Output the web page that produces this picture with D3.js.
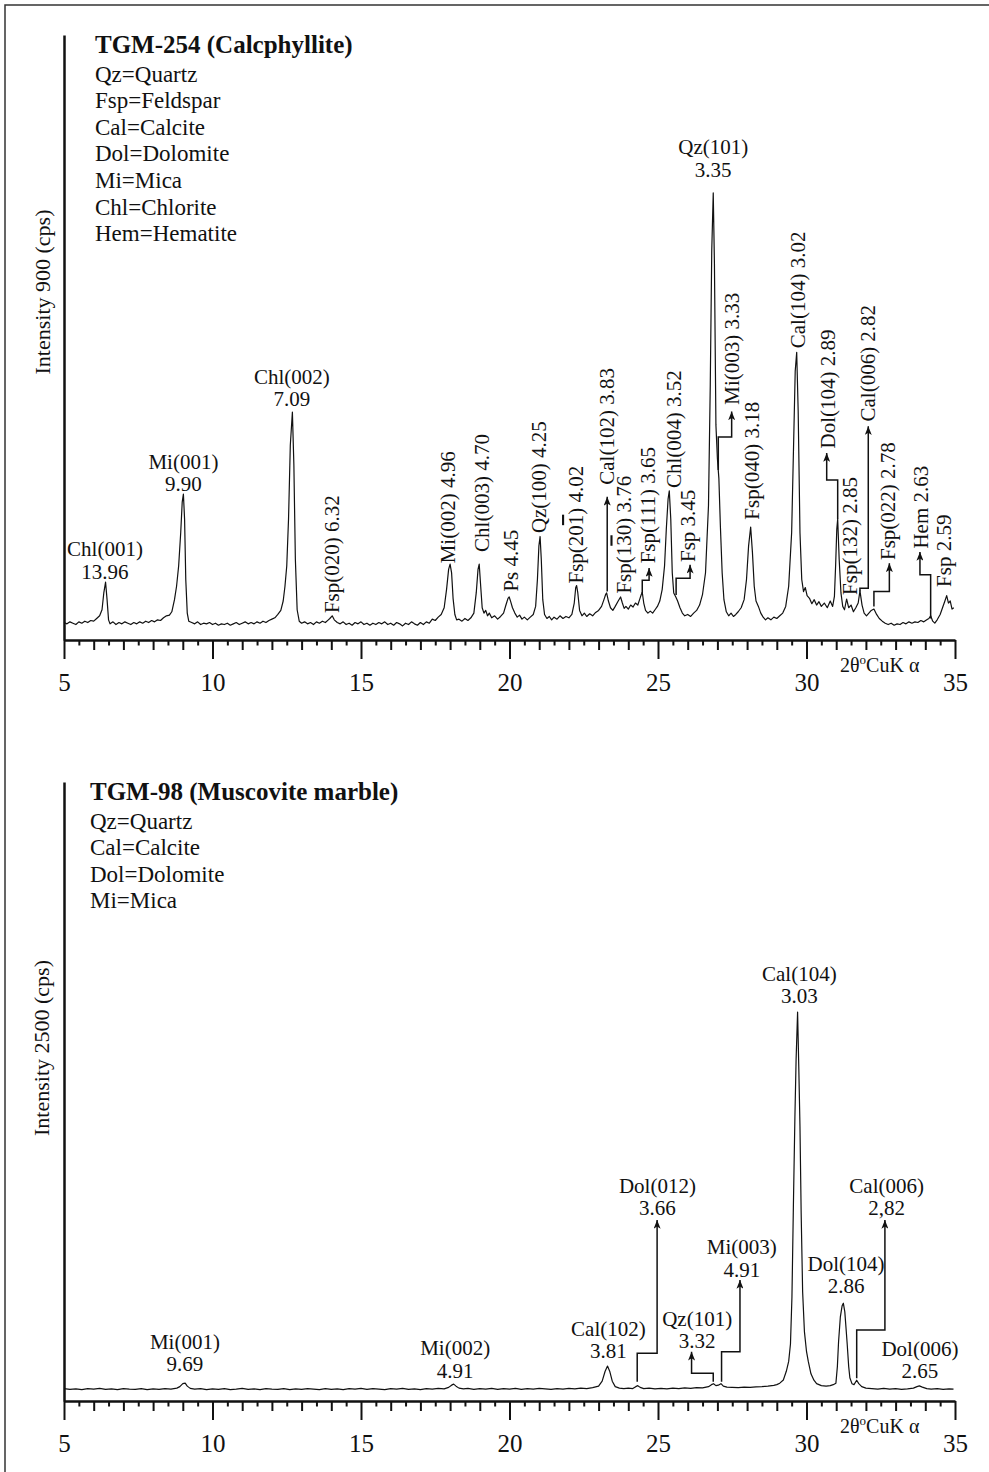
<!DOCTYPE html>
<html>
<head>
<meta charset="utf-8">
<script src="https://cdn.jsdelivr.net/npm/d3@7"></script>
<style>
body { margin: 0; background: #fff; }
svg text { font-family: "Liberation Serif", "Times New Roman", serif; fill: #111; }
</style>
</head>
<body>
<svg id="xrd" width="989" height="1472"></svg>
<script>
// ---- TGM-254 (Calcphyllite): trace, [2theta, cps]
const topTrace = [
  [5.0,26],[5.1,24],[5.2,27],[5.3,25],[5.4,23],[5.5,27],[5.6,25],[5.7,28],[5.8,26],[5.9,29],[6.0,28],[6.1,32],[6.2,36],
  [6.28,45],[6.34,70],[6.40,86],[6.45,60],[6.50,30],[6.55,24],[6.65,27],[6.75,23],[6.85,26],[6.95,24],[7.05,27],[7.15,25],
  [7.25,23],[7.35,26],[7.45,24],[7.55,27],[7.65,25],[7.75,28],[7.85,26],[7.95,29],[8.05,27],[8.15,30],[8.25,29],[8.35,33],
  [8.45,36],[8.55,37],[8.63,42],[8.72,60],[8.79,80],[8.86,110],[8.93,160],[8.98,205],[9.02,217],[9.06,180],[9.10,90],
  [9.15,40],[9.20,28],[9.3,26],[9.4,24],[9.5,27],[9.6,23],[9.7,25],[9.8,24],[9.9,26],[10.0,23],[10.1,25],[10.2,22],
  [10.3,24],[10.4,23],[10.5,25],[10.6,22],[10.7,24],[10.8,26],[10.9,23],[11.0,25],[11.1,27],[11.2,24],[11.3,26],[11.4,24],
  [11.5,27],[11.6,25],[11.7,28],[11.8,26],[11.9,29],[12.0,31],[12.1,33],[12.2,38],[12.3,44],[12.38,58],[12.44,80],
  [12.50,110],[12.56,180],[12.62,290],[12.69,339],[12.74,260],[12.79,120],[12.85,45],[12.92,28],[13.0,25],[13.1,27],
  [13.2,24],[13.3,26],[13.4,23],[13.5,27],[13.6,25],[13.7,28],[13.8,26],[13.9,30],[13.95,32],[14.03,36],[14.1,30],
  [14.2,26],[14.3,24],[14.4,27],[14.5,23],[14.6,25],[14.7,22],[14.8,26],[14.9,24],[15.0,27],[15.1,23],[15.2,25],[15.3,22],
  [15.4,25],[15.5,23],[15.6,26],[15.7,24],[15.8,27],[15.9,23],[16.0,25],[16.1,22],[16.2,26],[16.3,24],[16.4,21],[16.5,25],
  [16.6,23],[16.7,27],[16.8,24],[16.9,22],[17.0,26],[17.1,23],[17.2,27],[17.3,25],[17.4,31],[17.5,29],[17.6,34],[17.7,38],
  [17.8,48],[17.88,75],[17.95,105],[18.0,113],[18.05,100],[18.1,62],[18.16,38],[18.22,30],[18.3,31],[18.4,28],[18.5,32],
  [18.6,29],[18.7,33],[18.8,40],[18.88,70],[18.94,105],[18.98,113],[19.03,80],[19.08,48],[19.14,40],[19.2,44],[19.26,36],
  [19.32,40],[19.4,33],[19.5,36],[19.6,31],[19.7,35],[19.8,40],[19.88,52],[19.95,62],[19.99,64],[20.04,57],[20.1,48],
  [20.18,40],[20.26,34],[20.34,37],[20.42,31],[20.5,34],[20.6,30],[20.7,34],[20.8,38],[20.88,50],[20.94,90],[20.99,140],
  [21.03,154],[21.07,120],[21.12,60],[21.18,38],[21.26,32],[21.34,35],[21.42,30],[21.5,34],[21.6,31],[21.7,36],[21.8,32],
  [21.9,35],[22.0,33],[22.1,38],[22.18,55],[22.23,78],[22.26,81],[22.3,70],[22.36,44],[22.44,36],[22.52,40],[22.6,35],
  [22.7,39],[22.8,36],[22.9,41],[23.0,44],[23.1,50],[23.18,60],[23.24,68],[23.27,70],[23.33,58],[23.4,48],[23.48,44],
  [23.56,50],[23.66,58],[23.74,64],[23.8,55],[23.86,47],[23.92,50],[24.0,46],[24.08,52],[24.16,49],[24.24,55],[24.32,52],
  [24.38,60],[24.44,68],[24.47,71],[24.52,55],[24.58,44],[24.66,40],[24.74,43],[24.82,40],[24.9,45],[24.98,50],[25.06,58],
  [25.14,75],[25.22,110],[25.28,165],[25.34,210],[25.38,222],[25.43,180],[25.48,100],[25.53,70],[25.6,64],[25.66,58],
  [25.74,48],[25.82,40],[25.9,36],[26.0,38],[26.1,35],[26.2,40],[26.3,44],[26.4,52],[26.5,68],[26.6,100],[26.7,200],
  [26.76,380],[26.81,580],[26.86,665],[26.9,560],[26.95,320],[27.0,270],[27.05,240],[27.1,170],[27.16,100],[27.22,60],
  [27.3,42],[27.38,36],[27.46,40],[27.54,35],[27.62,38],[27.7,42],[27.8,48],[27.9,60],[27.98,90],[28.05,140],[28.12,168],
  [28.18,130],[28.24,80],[28.3,58],[28.38,50],[28.46,40],[28.54,34],[28.62,30],[28.7,33],[28.8,30],[28.9,34],[29.0,32],
  [29.1,36],[29.2,40],[29.3,50],[29.4,80],[29.5,160],[29.56,280],[29.62,400],[29.67,428],[29.72,340],[29.78,160],[29.84,90],
  [29.9,72],[29.96,78],[30.02,66],[30.1,62],[30.18,54],[30.26,60],[30.34,52],[30.42,57],[30.5,50],[30.6,55],[30.7,48],
  [30.8,58],[30.88,50],[30.94,65],[30.98,110],[31.02,165],[31.05,180],[31.1,120],[31.16,70],[31.22,50],[31.28,45],
  [31.35,61],[31.42,48],[31.5,52],[31.58,42],[31.66,48],[31.74,55],[31.8,73],[31.87,52],[31.94,40],[32.02,36],[32.1,40],
  [32.18,44],[32.27,46],[32.36,38],[32.45,32],[32.55,28],[32.65,25],[32.75,23],[32.85,25],[32.95,22],[33.05,24],[33.15,23],
  [33.25,26],[33.35,24],[33.45,27],[33.55,25],[33.65,27],[33.75,26],[33.85,29],[33.95,27],[34.05,30],[34.12,32],[34.18,36],
  [34.25,28],[34.32,25],[34.4,30],[34.5,38],[34.58,48],[34.66,58],[34.72,66],[34.78,55],[34.84,58],[34.9,46],[34.96,48]
];

// horizontal two-line peak labels: name, d-spacing, 2theta, cps of second line
const topPeaks = [
  {name:"Chl(001)", d:"13.96", theta:6.38, at:91},
  {name:"Mi(001)", d:"9.90", theta:9.02, at:221},
  {name:"Chl(002)", d:"7.09", theta:12.67, at:348},
  {name:"Qz(101)", d:"3.35", theta:26.86, at:689}
];

// vertical labels, {x} = overlined digit
const topTags = [
  {label:"Fsp(020) 6.32", theta:14.03, at:40},
  {label:"Mi(002) 4.96", theta:17.93, at:114},
  {label:"Chl(003) 4.70", theta:19.06, at:131},
  {label:"Ps 4.45", theta:20.05, at:72},
  {label:"Qz(100) 4.25", theta:21.0, at:159},
  {label:"Fsp(20{1}) 4.02", theta:22.24, at:84},
  {label:"Cal(102) 3.83", theta:23.27, at:231},
  {label:"Fsp(1{3}0) 3.76", theta:23.87, at:69},
  {label:"Fsp(111) 3.65", theta:24.66, at:114},
  {label:"Chl(004) 3.52", theta:25.54, at:226},
  {label:"Fsp 3.45", theta:26.01, at:116},
  {label:"Mi(003) 3.33", theta:27.48, at:350},
  {label:"Fsp(040) 3.18", theta:28.15, at:179},
  {label:"Cal(104) 3.02", theta:29.71, at:434},
  {label:"Dol(104) 2.89", theta:30.72, at:285},
  {label:"Fsp(132) 2.85", theta:31.48, at:67},
  {label:"Cal(006) 2.82", theta:32.07, at:325},
  {label:"Fsp(022) 2.78", theta:32.73, at:119},
  {label:"Hem 2.63", theta:33.84, at:136},
  {label:"Fsp 2.59", theta:34.63, at:79}
];

const topLeaders = [
  [[23.29,72],[23.29,213]],
  [[24.47,70],[24.47,89],[24.70,89],[24.70,107]],
  [[25.61,67],[25.61,92],[26.08,92],[26.08,112]],
  [[27.03,253],[27.03,302],[27.48,302],[27.48,340]],
  [[31.05,180],[31.05,238],[30.68,238],[30.68,278]],
  [[31.80,72],[31.80,77],[32.08,77],[32.08,318]],
  [[32.27,50],[32.27,72],[32.79,72],[32.79,114]],
  [[34.18,32],[34.18,97],[33.82,97],[33.82,131]]
];

const topLegend = ["Qz=Quartz","Fsp=Feldspar","Cal=Calcite","Dol=Dolomite","Mi=Mica","Chl=Chlorite","Hem=Hematite"];

// ---- TGM-98 (Muscovite marble)
const bottomTrace = [
  [5.0,50],[5.2,47],[5.4,49],[5.6,46],[5.8,50],[6.0,48],[6.2,51],[6.4,47],[6.6,49],[6.8,46],[7.0,50],[7.2,48],[7.4,47],
  [7.6,50],[7.8,46],[8.0,49],[8.2,47],[8.4,50],[8.6,48],[8.8,52],[8.9,58],[9.0,70],[9.08,72],[9.15,60],[9.25,51],[9.4,48],
  [9.6,50],[9.8,46],[10.0,49],[10.2,47],[10.4,50],[10.6,46],[10.8,48],[11.0,51],[11.2,47],[11.4,49],[11.6,46],[11.8,50],
  [12.0,48],[12.2,47],[12.4,50],[12.6,46],[12.8,49],[13.0,47],[13.2,50],[13.4,48],[13.6,46],[13.8,50],[14.0,47],[14.2,49],
  [14.4,46],[14.6,50],[14.8,48],[15.0,51],[15.2,47],[15.4,50],[15.6,48],[15.8,46],[16.0,50],[16.2,48],[16.4,51],[16.6,47],
  [16.8,49],[17.0,46],[17.2,50],[17.4,48],[17.6,51],[17.8,49],[17.95,55],[18.05,64],[18.12,68],[18.2,60],[18.3,52],
  [18.45,49],[18.6,51],[18.8,47],[19.0,50],[19.2,48],[19.4,51],[19.6,47],[19.8,50],[20.0,48],[20.2,51],[20.4,47],[20.6,50],
  [20.8,48],[21.0,51],[21.2,49],[21.4,47],[21.6,50],[21.8,48],[22.0,51],[22.2,49],[22.4,52],[22.6,50],[22.8,54],[23.0,60],
  [23.12,80],[23.22,120],[23.3,141],[23.38,118],[23.46,80],[23.56,58],[23.7,52],[23.85,50],[24.0,52],[24.15,50],[24.25,58],
  [24.32,62],[24.4,55],[24.52,50],[24.7,52],[24.9,49],[25.1,51],[25.3,49],[25.5,52],[25.7,50],[25.9,53],[26.1,51],[26.3,54],
  [26.5,53],[26.7,58],[26.8,66],[26.87,70],[26.95,62],[27.03,64],[27.12,70],[27.2,60],[27.32,56],[27.5,55],[27.7,54],
  [27.9,56],[28.1,55],[28.3,57],[28.5,58],[28.7,60],[28.9,63],[29.0,66],[29.1,72],[29.22,85],[29.32,120],[29.4,160],
  [29.46,230],[29.51,420],[29.56,800],[29.61,1150],[29.65,1380],[29.70,1571],[29.74,1350],[29.78,1110],[29.82,760],
  [29.87,440],[29.93,280],[30.0,200],[30.06,160],[30.15,110],[30.25,84],[30.34,70],[30.5,62],[30.66,60],[30.8,62],
  [30.9,66],[30.99,72],[31.04,140],[31.08,240],[31.14,340],[31.2,385],[31.24,395],[31.29,360],[31.34,280],[31.37,230],
  [31.42,140],[31.46,94],[31.53,70],[31.6,66],[31.69,84],[31.76,70],[31.86,58],[32.0,52],[32.2,50],[32.4,48],[32.6,51],
  [32.8,48],[33.0,50],[33.2,47],[33.4,49],[33.6,52],[33.72,58],[33.8,61],[33.9,56],[34.05,50],[34.2,48],[34.4,50],
  [34.6,47],[34.8,49],[34.95,48]
];

const bottomPeaks = [
  {name:"Mi(001)", d:"9.69", theta:9.07, at:121},
  {name:"Mi(002)", d:"4.91", theta:18.17, at:93},
  {name:"Cal(102)", d:"3.81", theta:23.33, at:172},
  {name:"Dol(012)", d:"3.66", theta:24.98, at:751},
  {name:"Qz(101)", d:"3.32", theta:26.32, at:213},
  {name:"Mi(003)", d:"4.91", theta:27.82, at:502},
  {name:"Cal(104)", d:"3.03", theta:29.76, at:1606},
  {name:"Dol(104)", d:"2.86", theta:31.33, at:435},
  {name:"Cal(006)", d:"2,82", theta:32.70, at:751},
  {name:"Dol(006)", d:"2.65", theta:33.82, at:92}
];

const bottomLeaders = [
  [[24.30,78],[24.30,193],[24.97,193],[24.97,731]],
  [[26.86,78],[26.86,112],[26.13,112],[26.13,199]],
  [[27.14,78],[27.14,199],[27.76,199],[27.76,489]],
  [[31.69,92],[31.69,287],[32.64,287],[32.64,731]]
];

const bottomLegend = ["Qz=Quartz","Cal=Calcite","Dol=Dolomite","Mi=Mica"];

// ---- drawing
const svg = d3.select("#xrd");

svg.append("rect")
   .attr("x", 5).attr("y", 5).attr("width", 1000).attr("height", 1500)
   .attr("fill", "none").attr("stroke", "#333").attr("stroke-width", 1.5);

svg.append("defs").append("marker")
   .attr("id", "arrow")
   .attr("viewBox", "0 0 10 8")
   .attr("refX", 10).attr("refY", 4)
   .attr("markerUnits", "userSpaceOnUse")
   .attr("markerWidth", 9).attr("markerHeight", 7)
   .attr("orient", "auto")
   .append("path").attr("d", "M0,0 L10,4 L0,8 L2.5,4 Z").attr("fill", "#111");

const x = d3.scaleLinear().domain([5, 35]).range([64, 955]);

const addText = (sel, str) => {
    // split "{n}" pieces into overlined tspans
    str.split(/(\{[^}]*\})/).filter(s => s.length).forEach(s => {
        const t = sel.append("tspan");
        if (s[0] === "{") t.text(s.slice(1, -1)).style("text-decoration", "overline");
        else t.text(s);
    });
};

const drawPanel = (p) => {
    const y = d3.scaleLinear().domain([0, p.yMax]).range([p.bottom, p.top]);
    const g = svg.append("g");

    const xAxis = d3.axisBottom(x)
        .tickValues(d3.range(5, 35.01, 0.5))
        .tickSize(19).tickSizeOuter(0)
        .tickFormat(d => d % 5 === 0 ? d : "");
    const gx = g.append("g").attr("transform", `translate(0,${p.bottom})`).call(xAxis);
    gx.select(".domain").attr("stroke", "#111").attr("stroke-width", 2.5);
    gx.selectAll(".tick line").attr("stroke", "#111").attr("stroke-width", 2)
        .attr("y2", d => d % 5 === 0 ? 19 : (d % 1 === 0 ? 10 : 5.5));
    gx.selectAll(".tick text").attr("font-size", 25).attr("y", 33).attr("fill", "#111")
        .style("font-family", "'Liberation Serif', serif");

    const yAxis = d3.axisLeft(y).tickValues([]).tickSizeOuter(0);
    const gy = g.append("g").attr("transform", `translate(${x(5)},0)`).call(yAxis);
    gy.select(".domain").attr("stroke", "#111").attr("stroke-width", 2.5);

    g.append("text")
        .attr("transform", `translate(${p.ylabX},${p.ylabY}) rotate(-90)`)
        .attr("text-anchor", "middle").attr("dominant-baseline", "central")
        .attr("font-size", 22).text(p.ylab);

    const xl = g.append("text").attr("x", 840).attr("y", p.bottom + 32).attr("font-size", 20);
    xl.append("tspan").text("2θ");
    xl.append("tspan").attr("font-size", 13).attr("dy", -8).text("o");
    xl.append("tspan").attr("dy", 8).text("CuK α");

    g.append("text").attr("x", p.titleX).attr("y", p.titleY)
        .attr("font-size", 25).attr("font-weight", "bold").text(p.title);
    g.selectAll("text.legend").data(p.legend).join("text")
        .attr("class", "legend")
        .attr("x", p.titleX).attr("y", (d, i) => p.titleY + 28.5 + i * 26.6)
        .attr("font-size", 23).text(d => d);

    const line = d3.line().x(d => x(d[0])).y(d => y(d[1]));
    g.append("path").datum(p.trace)
        .attr("d", line).attr("fill", "none")
        .attr("stroke", "#111").attr("stroke-width", 1.2).attr("stroke-linejoin", "round");

    g.selectAll("path.leader").data(p.leaders).join("path")
        .attr("class", "leader")
        .attr("d", d3.line().x(d => x(d[0])).y(d => y(d[1])))
        .attr("fill", "none").attr("stroke", "#111").attr("stroke-width", 1.5)
        .attr("marker-end", "url(#arrow)");

    p.peaks.forEach(d => {
        g.append("text").attr("x", x(d.theta)).attr("y", y(d.at) - 22.5)
            .attr("text-anchor", "middle").attr("font-size", 21).text(d.name);
        g.append("text").attr("x", x(d.theta)).attr("y", y(d.at))
            .attr("text-anchor", "middle").attr("font-size", 21).text(d.d);
    });

    p.tags.forEach(d => {
        const t = g.append("text")
            .attr("transform", `translate(${x(d.theta)},${y(d.at)}) rotate(-90)`)
            .attr("dominant-baseline", "central").attr("font-size", 21);
        addText(t, d.label);
    });
};

drawPanel({
    top: 35, bottom: 640, yMax: 900,
    trace: topTrace, peaks: topPeaks, tags: topTags, leaders: topLeaders, legend: topLegend,
    title: "TGM-254 (Calcphyllite)", titleX: 95, titleY: 53,
    ylab: "Intensity 900 (cps)", ylabX: 42, ylabY: 292
});

drawPanel({
    top: 782, bottom: 1401, yMax: 2500,
    trace: bottomTrace, peaks: bottomPeaks, tags: [], leaders: bottomLeaders, legend: bottomLegend,
    title: "TGM-98 (Muscovite marble)", titleX: 90, titleY: 800,
    ylab: "Intensity 2500 (cps)", ylabX: 41, ylabY: 1048
});
</script>
</body>
</html>
